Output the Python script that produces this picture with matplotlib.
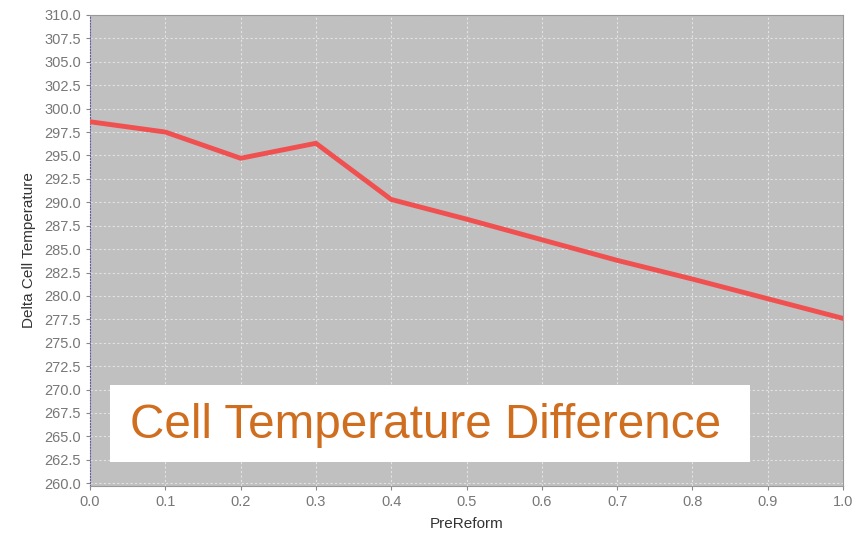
import matplotlib
matplotlib.use("Agg")
import matplotlib.pyplot as plt
from matplotlib.patches import Rectangle
import numpy as np

prereform = [0.0, 0.1, 0.2, 0.3, 0.4, 0.5, 0.6, 0.7, 0.8, 0.9, 1.0]
delta_temp = [298.6, 297.5, 294.7, 296.3, 290.3, 288.2, 286.0, 283.8, 281.8, 279.7, 277.6]
y_ticks = [260.0 + 2.5 * i for i in range(21)]
x_ticks = [0.0, 0.1, 0.2, 0.3, 0.4, 0.5, 0.6, 0.7, 0.8, 0.9, 1.0]

plt.rcParams['font.family'] = ['Liberation Sans', 'DejaVu Sans']

fig = plt.figure(figsize=(8.61, 5.35), dpi=100)
ax = fig.add_axes([90/861, 1 - 486/535, (843-90)/861, (486-15)/535])
ax.set_facecolor('#c0c0c0')
ax.plot(prereform, delta_temp, color='#f05050', linewidth=3.5, solid_joinstyle='miter', zorder=3)
ax.set_xlim(0.0, 1.0)
ax.set_ylim(259.7, 310.0)
ax.set_yticks(y_ticks)
ax.set_yticklabels([f"{v:.1f}" for v in y_ticks])
ax.set_xticks(x_ticks)
ax.set_xticklabels([f"{v:.1f}" for v in x_ticks])
ax.grid(True, color='#ececec', linestyle=(0, (2, 2)), linewidth=0.8, alpha=0.8)
ax.set_axisbelow(True)
for s in ['top', 'right']:
    ax.spines[s].set_color('#999999')
ax.spines['left'].set_color('#6060a0')
ax.spines['left'].set_linestyle(':')
ax.spines['bottom'].set_color('#999999')
ax.tick_params(axis='both', colors='#888888', labelcolor='#777777', labelsize=10.5, length=3)
ax.set_ylabel('Delta Cell Temperature', fontsize=11, color='#333333', labelpad=6)
ax.set_xlabel('PreReform', fontsize=11, color='#333333', labelpad=6)

fig.patches.append(Rectangle((110/861, 1 - 462/535), (750-110)/861, (462-385)/535,
                             transform=fig.transFigure, facecolor='white', edgecolor='none', zorder=5))
fig.text(130/861, 1 - 425/535, 'Cell Temperature Difference', fontsize=34.3, color='#d06e20',
         va='center', ha='left', zorder=6)

fig.savefig('out.png', dpi=100)
